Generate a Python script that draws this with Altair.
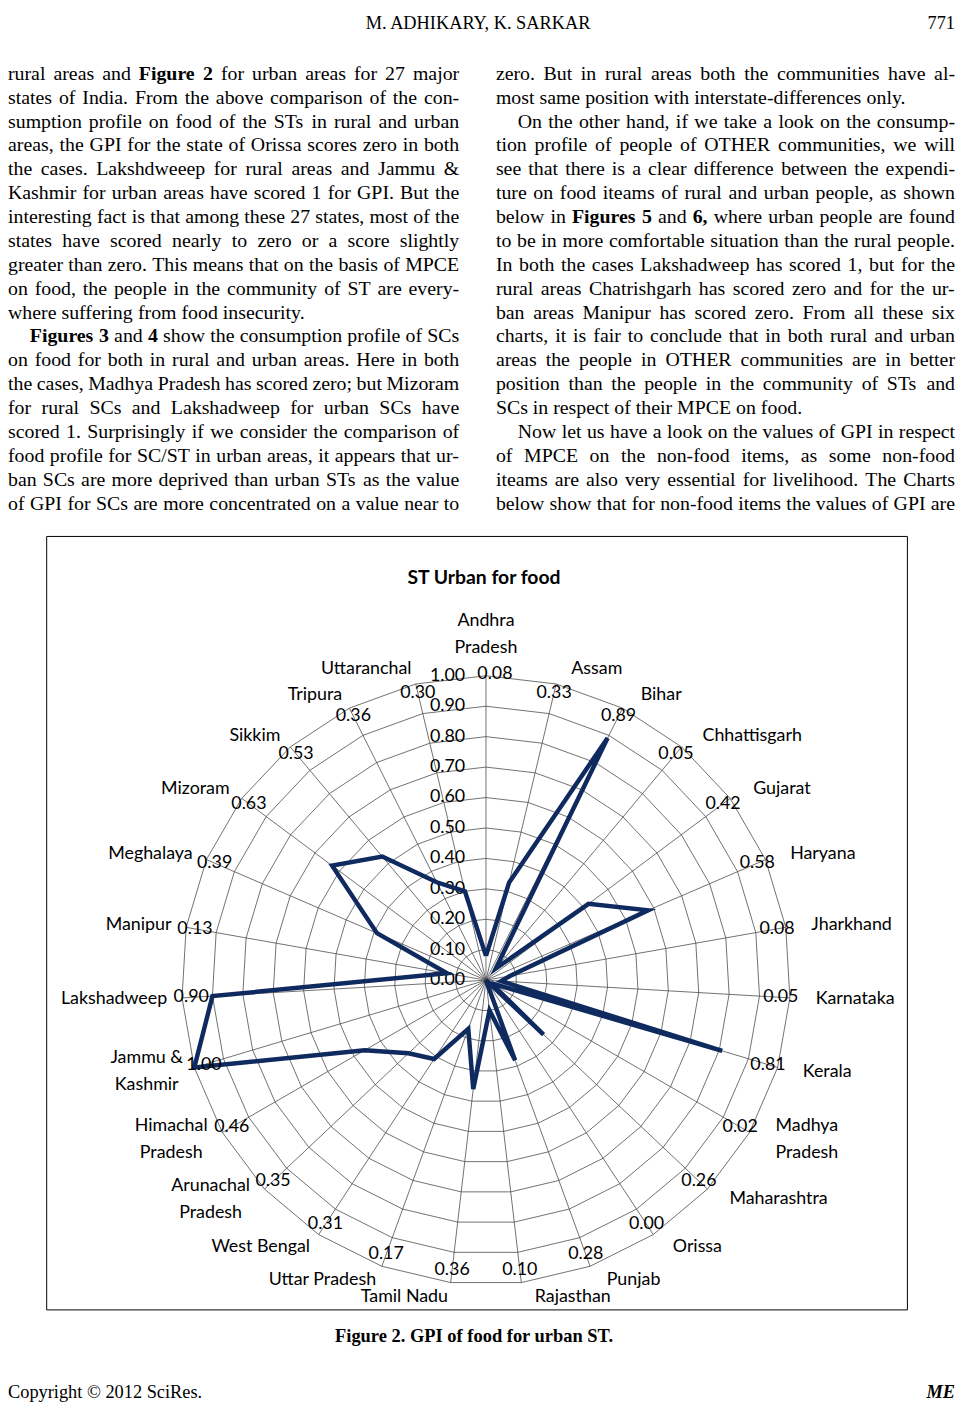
import altair as alt
import pandas as pd

# ---------------- data ----------------
STATES = ["Andhra\nPradesh", "Assam", "Bihar", "Chhattisgarh", "Gujarat", "Haryana",
          "Jharkhand", "Karnataka", "Kerala", "Madhya\nPradesh", "Maharashtra", "Orissa",
          "Punjab", "Rajasthan", "Tamil  Nadu", "Uttar Pradesh", "West Bengal",
          "Arunachal\nPradesh", "Himachal\nPradesh", "Jammu &\nKashmir", "Lakshadweep",
          "Manipur", "Meghalaya", "Mizoram", "Sikkim", "Tripura", "Uttaranchal"]
GPI = [0.08, 0.33, 0.89, 0.05, 0.42, 0.58, 0.08, 0.05, 0.81, 0.02, 0.26, 0.00, 0.28, 0.10,
       0.36, 0.17, 0.31, 0.35, 0.46, 1.00, 0.90, 0.13, 0.39, 0.63, 0.53, 0.36, 0.30]
TICKS = [0.0, 0.1, 0.2, 0.3, 0.4, 0.5, 0.6, 0.7, 0.8, 0.9, 1.0]

TITLE = "ST Urban for food"
CAPTION = "Figure 2. GPI of food for urban ST."
HEADER = "M. ADHIKARY, K. SARKAR"
PAGE_NO = "771"
FOOTER = "Copyright \u00a9 2012  SciRes."
JOURNAL = "ME"

# body text: (indent, text, justified); words starting with * are bold
LEFT_TEXT = [
    (False, "rural areas and *Figure *2 for urban areas for 27 major", True),
    (False, "states of India. From the above comparison of the con-", True),
    (False, "sumption profile on food of the STs in rural and urban", True),
    (False, "areas, the GPI for the state of Orissa scores zero in both", True),
    (False, "the cases. Lakshdweeep for rural areas and Jammu &", True),
    (False, "Kashmir for urban areas have scored 1 for GPI. But the", True),
    (False, "interesting fact is that among these 27 states, most of the", True),
    (False, "states have scored nearly to zero or a score slightly", True),
    (False, "greater than zero. This means that on the basis of MPCE", True),
    (False, "on food, the people in the community of ST are every-", True),
    (False, "where suffering from food insecurity.", False),
    (True, "*Figures *3 and *4 show the consumption profile of SCs", True),
    (False, "on food for both in rural and urban areas. Here in both", True),
    (False, "the cases, Madhya Pradesh has scored zero; but Mizoram", True),
    (False, "for rural SCs and Lakshadweep for urban SCs have", True),
    (False, "scored 1. Surprisingly if we consider the comparison of", True),
    (False, "food profile for SC/ST in urban areas, it appears that ur-", True),
    (False, "ban SCs are more deprived than urban STs as the value", True),
    (False, "of GPI for SCs are more concentrated on a value near to", True),
]
RIGHT_TEXT = [
    (False, "zero. But in rural areas both the communities have al-", True),
    (False, "most same position with interstate-differences only.", False),
    (True, "On the other hand, if we take a look on the consump-", True),
    (False, "tion profile of people of OTHER communities, we will", True),
    (False, "see that there is a clear difference between the expendi-", True),
    (False, "ture on food iteams of rural and urban people, as shown", True),
    (False, "below in *Figures *5 and *6, where urban people are found", True),
    (False, "to be in more comfortable situation than the rural people.", True),
    (False, "In both the cases Lakshadweep has scored 1, but for the", True),
    (False, "rural areas Chatrishgarh has scored zero and for the ur-", True),
    (False, "ban areas Manipur has scored zero. From all these six", True),
    (False, "charts, it is fair to conclude that in both rural and urban", True),
    (False, "areas the people in OTHER communities are in better", True),
    (False, "position than the people in the community of STs and", True),
    (False, "SCs in respect of their MPCE on food.", False),
    (True, "Now let us have a look on the values of GPI in respect", True),
    (False, "of MPCE on the non-food items, as some non-food", True),
    (False, "iteams are also very essential for livelihood. The Charts", True),
    (False, "below show that for non-food items the values of GPI are", True),
]

# ---------------- layout (page pixels) ----------------
W, H = 957, 1398          # chart covers page x 8..965, y 8..1406
CX, CY, R = 490.0, 982.5, 307.0
N = len(STATES)
BODY_FS = 20
BODY_LEAD = 24.08
BODY_BASE = 74.5
COLS = [(8, 463), (500, 963)]
INDENT = 22
LAB_LH = 27

XS = alt.Scale(domain=[8, 8 + W], range=[0, W], nice=False, zero=False)
YS = alt.Scale(domain=[8, 8 + H], range=[0, H], nice=False, zero=False)
X = lambda f: alt.X(f, type="quantitative", scale=XS, axis=None)
Y = lambda f: alt.Y(f, type="quantitative", scale=YS, axis=None)

LABEL_FONT = "Lato"
NAVY = "#0f2a5e"
GRID = "#4d4d4d"

# Times metrics (per 1000 em) for justification of the body text
def _tbl(s):
    d = {}
    for tok in s.split():
        d[tok[0]] = int(tok[1:])
    return d

TR = _tbl("A722 B667 C667 D722 E611 F556 G722 H722 I333 J389 K722 L611 M889 N722 O722 P556 Q722 "
          "R667 S556 T611 U722 V722 W944 X722 Y722 Z611 a444 b500 c444 d500 e444 f333 g500 h500 "
          "i278 j278 k500 l278 m778 n500 o500 p500 q500 r333 s389 t278 u500 v500 w722 x500 y500 z444")
TR.update({",": 250, ".": 250, "-": 333, ";": 278, ":": 278, "/": 278, "&": 778, "'": 333})
TB = _tbl("A722 B667 C722 D722 E667 F611 G778 H778 I389 J500 K778 L667 M944 N722 O778 P611 Q778 "
          "R722 S556 T667 U722 V722 W999 X722 Y722 Z667 a500 b556 c444 d556 e444 f333 g500 h556 "
          "i278 j333 k556 l278 m833 n556 o500 p556 q556 r444 s389 t333 u556 v500 w722 x500 y500 z444")
TB.update({",": 250, ".": 250, "-": 333, ";": 333, ":": 333, "/": 278, "&": 833})


def word_width(word, bold):
    tbl = TB if bold else TR
    return sum(tbl.get(ch, 500) for ch in word) * BODY_FS / 1000.0


rows = []
for (x0, x1), lines in zip(COLS, [LEFT_TEXT, RIGHT_TEXT]):
    for i, (indent, text, justify) in enumerate(lines):
        words = []
        for w in text.split(" "):
            bold = w.startswith("*")
            words.append((w.lstrip("*"), bold))
        widths = [word_width(w, b) for w, b in words]
        start = x0 + (INDENT if indent else 0)
        space = 250 * BODY_FS / 1000.0
        if justify and len(words) > 1:
            gap = (x1 - start - sum(widths)) / (len(words) - 1)
            gap = max(gap, 0.6 * space)
        else:
            gap = space
        xpos = start
        y = BODY_BASE + i * BODY_LEAD
        for (w, b), wd in zip(words, widths):
            rows.append({"px": xpos, "py": y, "t": w, "bold": b})
            xpos += wd + gap
words_df = pd.DataFrame(rows)

body_regular = alt.Chart(words_df).transform_filter("!datum.bold").mark_text(
    align="left", baseline="alphabetic", font="Liberation Serif", fontSize=BODY_FS, color="black"
).encode(x=X("px"), y=Y("py"), text="t:N")
body_bold = alt.Chart(words_df).transform_filter("datum.bold").mark_text(
    align="left", baseline="alphabetic", font="Liberation Serif", fontSize=BODY_FS,
    fontWeight="bold", color="black"
).encode(x=X("px"), y=Y("py"), text="t:N")


def page_text(text, x, y, **kw):
    return alt.Chart(pd.DataFrame({"t": [text]})).mark_text(**kw).encode(
        x=alt.value(x - 8), y=alt.value(y - 8), text="t:N")


header = page_text(HEADER, 482, 23, align="center", baseline="alphabetic",
                   font="Liberation Serif", fontSize=18.5, color="black")
pageno = page_text(PAGE_NO, 963, 23, align="right", baseline="alphabetic",
                   font="Liberation Serif", fontSize=18.5, color="black")
caption = page_text(CAPTION, 478, 1347, align="center", baseline="alphabetic",
                    font="Liberation Serif", fontSize=18.6, fontWeight="bold", color="black")
footer = page_text(FOOTER, 8, 1404, align="left", baseline="alphabetic",
                   font="Liberation Serif", fontSize=18.5, color="black")
journal = page_text(JOURNAL, 963, 1404, align="right", baseline="alphabetic",
                    font="Liberation Serif", fontSize=18.5, fontWeight="bold",
                    fontStyle="italic", color="black")
title = page_text(TITLE, 488, 577, align="center", baseline="middle",
                  font=LABEL_FONT, fontSize=19.5, fontWeight="bold", color="black")

frame = alt.Chart(pd.DataFrame({"a": [0]})).mark_rect(
    filled=False, stroke="black", strokeWidth=1
).encode(x=alt.value(47 - 8), x2=alt.value(915 - 8), y=alt.value(535 - 8), y2=alt.value(1315 - 8))

# ---------------- radar ----------------
radar_df = pd.DataFrame({"idx": list(range(N)), "state": STATES, "val": GPI})
line_df = pd.concat([radar_df, radar_df.iloc[[0]].assign(idx=N)], ignore_index=True)

THETA = f"datum.idx * 2 * PI / {N}"
PX = lambda r: f"{CX} + {R} * ({r}) * sin({THETA})"
PY = lambda r: f"{CY} - {R} * ({r}) * cos({THETA})"

grid_rows = [{"level": t, "idx": k} for t in TICKS[1:] for k in range(N + 1)]
grid = alt.Chart(pd.DataFrame(grid_rows)).transform_calculate(
    px=PX("datum.level"), py=PY("datum.level")
).mark_line(color=GRID, strokeWidth=0.8).encode(
    x=X("px"), y=Y("py"), detail="level:N", order="idx:Q")

spokes = alt.Chart(radar_df).transform_calculate(
    px=PX("1"), py=PY("1"), px0=f"{CX}", py0=f"{CY}"
).mark_rule(color=GRID, strokeWidth=0.8).encode(
    x=X("px0"), y=Y("py0"), x2="px:Q", y2="py:Q")

tick_labels = alt.Chart(pd.DataFrame({"t": TICKS})).transform_calculate(
    px=f"{CX} - 21", py=f"{CY} - {R} * datum.t"
).mark_text(align="right", baseline="middle", font=LABEL_FONT, fontSize=18, color="black").encode(
    x=X("px"), y=Y("py"), text=alt.Text("t:Q", format=".2f"))

series = alt.Chart(line_df).transform_calculate(
    px=PX("datum.val"), py=PY("datum.val")
).mark_line(color=NAVY, strokeWidth=4.5, strokeJoin="miter").encode(
    x=X("px"), y=Y("py"), order="idx:Q")

# value labels sit just inside the spoke ends; the one on the vertical axis
# is nudged right of the axis labels
value_labels = alt.Chart(radar_df).transform_calculate(
    th=THETA
).transform_calculate(
    rr=f"{R} - 9 - 4 * max(0, -cos(datum.th))"
).transform_calculate(
    px=f"datum.idx == 0 ? {CX} + 9 : {CX} + datum.rr * sin(datum.th)",
    py=f"datum.idx == 0 ? {CY} - {R} - 2 : {CY} - datum.rr * cos(datum.th)"
).mark_text(align="center", baseline="middle", font=LABEL_FONT, fontSize=18, color="black").encode(
    x=X("px"), y=Y("py"), text=alt.Text("val:Q", format=".2f"))

lab_base = alt.Chart(radar_df).transform_calculate(
    th=THETA
).transform_calculate(
    s="sin(datum.th)", c="cos(datum.th)", nl="indexof(datum.state, '\\n')"
)
LAB_KW = dict(font=LABEL_FONT, fontSize=18, color="black", lineBreak="\n", lineHeight=LAB_LH)

lab_top = lab_base.transform_filter("datum.idx == 0").transform_calculate(
    px=f"{CX}", py=f"{CY} - 326 - {LAB_LH}"
).mark_text(align="center", baseline="bottom", **LAB_KW).encode(x=X("px"), y=Y("py"), text="state:N")

lab_right = lab_base.transform_filter("datum.s > 0.05 && datum.nl < 0").transform_calculate(
    px=f"{CX} + 321 * datum.s + 12", py=f"{CY} - 322 * datum.c"
).mark_text(align="left", baseline="middle", **LAB_KW).encode(x=X("px"), y=Y("py"), text="state:N")

lab_left = lab_base.transform_filter("datum.s < -0.05 && datum.nl < 0").transform_calculate(
    px=f"{CX} + 321 * datum.s - 1", py=f"{CY} - 322 * datum.c"
).mark_text(align="right", baseline="middle", **LAB_KW).encode(x=X("px"), y=Y("py"), text="state:N")

lab_multi = lab_base.transform_filter("datum.idx > 0 && datum.nl >= 0").transform_calculate(
    hw="4.8 * max(datum.nl, length(datum.state) - datum.nl - 1)"
).transform_calculate(
    px=f"datum.s > 0 ? {CX} + 321 * datum.s + 12 + datum.hw : {CX} + 321 * datum.s - 1 - datum.hw",
    py=f"{CY} - 322 * datum.c - {LAB_LH / 2}"
).mark_text(align="center", baseline="middle", **LAB_KW).encode(x=X("px"), y=Y("py"), text="state:N")

chart = alt.layer(
    body_regular, body_bold, header, pageno,
    frame, title,
    grid, spokes, tick_labels, series, value_labels,
    lab_top, lab_right, lab_left, lab_multi,
    caption, footer, journal,
).properties(
    width=W, height=H, autosize=alt.AutoSizeParams(type="none"), padding=0,
    background="white"
).configure_view(strokeWidth=0)

chart.save("out.html", embed_options={"renderer": "svg", "actions": False})
